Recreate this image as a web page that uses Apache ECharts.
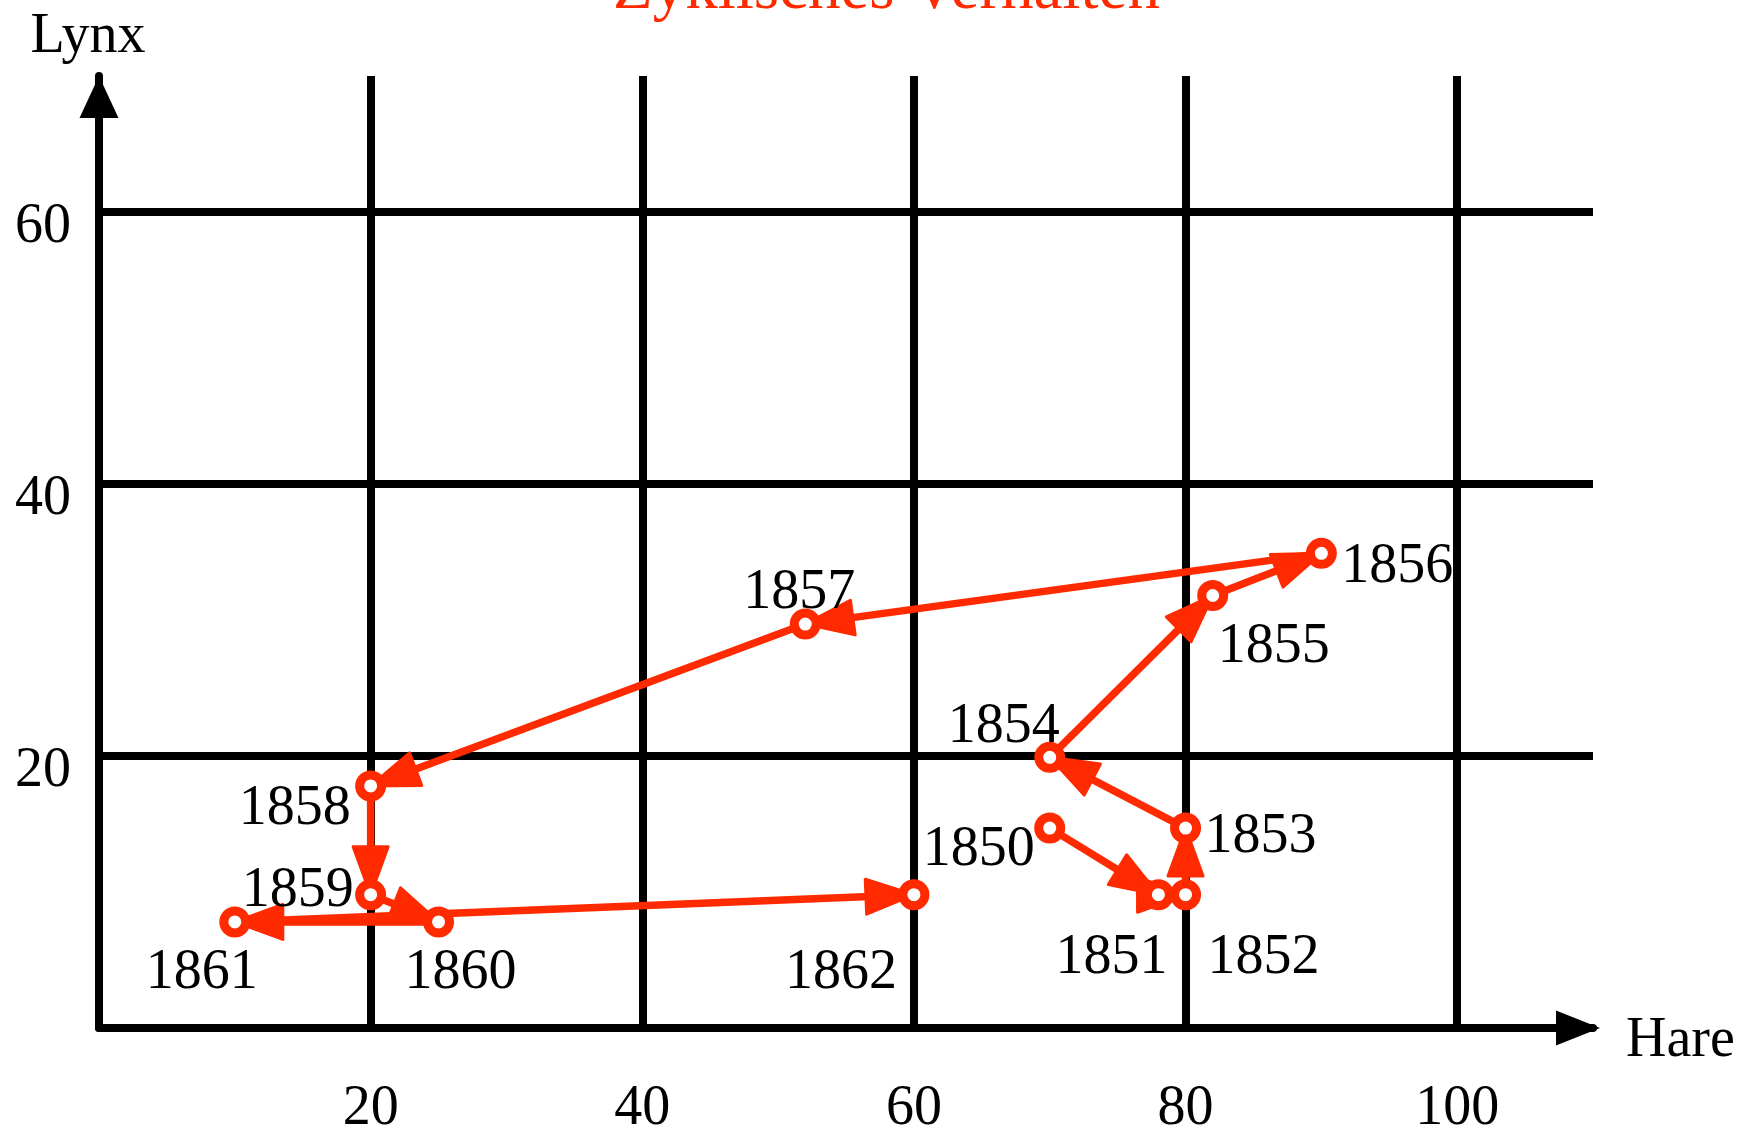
<!DOCTYPE html>
<html>
<head>
<meta charset="utf-8">
<script src="https://cdn.jsdelivr.net/npm/echarts@6/dist/echarts.min.js"></script>
<style>
html,body{margin:0;padding:0;background:#ffffff;}
#chart{width:1756px;height:1133px;}
</style>
</head>
<body>
<div id="chart"></div>
<script>
// ---------------- data ----------------
const years = [1850, 1851, 1852, 1853, 1854, 1855, 1856, 1857, 1858, 1859, 1860, 1861, 1862];
const hare  = [70, 78, 80, 80, 70, 82, 90, 52, 20, 20, 25, 10, 60];
const lynx  = [14.7, 9.8, 9.8, 14.7, 19.9, 31.8, 34.9, 29.7, 17.8, 9.8, 7.8, 7.8, 9.8];
const xTicks = [20, 40, 60, 80, 100];
const yTicks = [20, 40, 60];
const titleText = 'Zyklisches Verhalten';
const xName = 'Hare';
const yName = 'Lynx';

// ---------------- style / layout ----------------
const RED = '#ff2a00';
const FONT = '"Liberation Serif", "Times New Roman", serif';
const FS = 56;
// label offsets (px) relative to each marker, same order as years
const labelOffsets = [
  [-71, 22], [-47, 64], [78, 64], [75, 9], [-46, -30], [61, 52], [76, 14],
  [-6, -31], [-76, 23], [-73, -3], [22, 51], [-33, 51], [-73, 79]
];
const ARROW_LEN = 48;
const ARROW_W = 35;

const segData = [];
for (let i = 0; i < years.length - 1; i++) {
  segData.push([hare[i], lynx[i], hare[i + 1], lynx[i + 1]]);
}
const pointData = years.map((y, i) => ({
  value: [hare[i], lynx[i]],
  label: { offset: labelOffsets[i] }
}));

const chart = echarts.init(document.getElementById('chart'), null, { renderer: 'canvas' });

const option = {
  animation: false,
  backgroundColor: '#ffffff',
  title: {
    text: titleText,
    left: 608,
    top: -47,
    textStyle: { color: RED, fontSize: 65, fontFamily: FONT, fontWeight: 'normal' }
  },
  grid: {
    left: 99, right: 163, top: 76, bottom: 105,
    containLabel: false,
    outerBoundsMode: 'none'
  },
  xAxis: {
    type: 'value',
    min: 0, max: 110, interval: 20,
    name: xName,
    nameLocation: 'end',
    nameGap: 33,
    nameMoveOverlap: false,
    nameTextStyle: { fontSize: FS, color: '#000', fontFamily: FONT, verticalAlign: 'top', lineHeight: 26 },
    axisLine: {
      show: true, onZero: true,
      symbol: ['none', 'triangle'],
      symbolSize: [35, 44],
      symbolOffset: [0, -15],
      lineStyle: { color: '#000', width: 8 }
    },
    axisTick: { show: false },
    axisLabel: {
      margin: 53,
      fontSize: FS, color: '#000', fontFamily: FONT,
      formatter: v => (xTicks.indexOf(v) >= 0 ? String(v) : '')
    },
    splitLine: {
      show: true, showMinLine: false, showMaxLine: false,
      lineStyle: { color: '#000', width: 8 }
    }
  },
  yAxis: {
    type: 'value',
    min: 0, max: 70, interval: 20,
    name: yName,
    nameLocation: 'end',
    nameGap: 11,
    nameMoveOverlap: false,
    nameTextStyle: { fontSize: FS, color: '#000', fontFamily: FONT, padding: [0, 22, 0, 0] },
    axisLine: {
      show: true, onZero: true,
      symbol: ['none', 'triangle'],
      symbolSize: [39, 42],
      symbolOffset: [0, -21],
      lineStyle: { color: '#000', width: 8 }
    },
    axisTick: { show: false },
    axisLabel: {
      margin: 28,
      fontSize: FS, color: '#000', fontFamily: FONT,
      verticalAlign: 'top',
      lineHeight: 30,
      formatter: v => (yTicks.indexOf(v) >= 0 ? String(v) : '')
    },
    splitLine: {
      show: true, showMinLine: false, showMaxLine: false,
      lineStyle: { color: '#000', width: 8 }
    }
  },
  series: [
    {
      type: 'custom',
      name: 'path',
      z: 3,
      silent: true,
      encode: { x: [0, 2], y: [1, 3] },
      data: segData,
      renderItem: function (params, api) {
        const p0 = api.coord([api.value(0), api.value(1)]);
        const p1 = api.coord([api.value(2), api.value(3)]);
        const dx = p1[0] - p0[0], dy = p1[1] - p0[1];
        const len = Math.sqrt(dx * dx + dy * dy) || 1;
        const ux = dx / len, uy = dy / len;
        const nx = -uy, ny = ux;
        const bx = p1[0] - ux * ARROW_LEN, by = p1[1] - uy * ARROW_LEN;
        return {
          type: 'group',
          children: [
            {
              type: 'line',
              shape: { x1: p0[0], y1: p0[1], x2: bx + ux * 4, y2: by + uy * 4 },
              style: { stroke: RED, lineWidth: 7.5, fill: null }
            },
            {
              type: 'polygon',
              shape: {
                points: [
                  [p1[0], p1[1]],
                  [bx + nx * ARROW_W / 2, by + ny * ARROW_W / 2],
                  [bx - nx * ARROW_W / 2, by - ny * ARROW_W / 2]
                ]
              },
              style: { fill: RED, stroke: RED, lineWidth: 3, lineJoin: 'round' }
            }
          ]
        };
      }
    },
    {
      type: 'scatter',
      name: 'years',
      z: 4,
      symbol: 'circle',
      symbolSize: 22,
      itemStyle: { color: '#ffffff', borderColor: RED, borderWidth: 9, opacity: 1 },
      emphasis: { disabled: true },
      label: {
        show: true,
        position: 'inside',
        fontSize: FS,
        color: '#000',
        fontFamily: FONT,
        formatter: p => String(years[p.dataIndex])
      },
      data: pointData
    }
  ]
};

chart.setOption(option);
</script>
</body>
</html>
